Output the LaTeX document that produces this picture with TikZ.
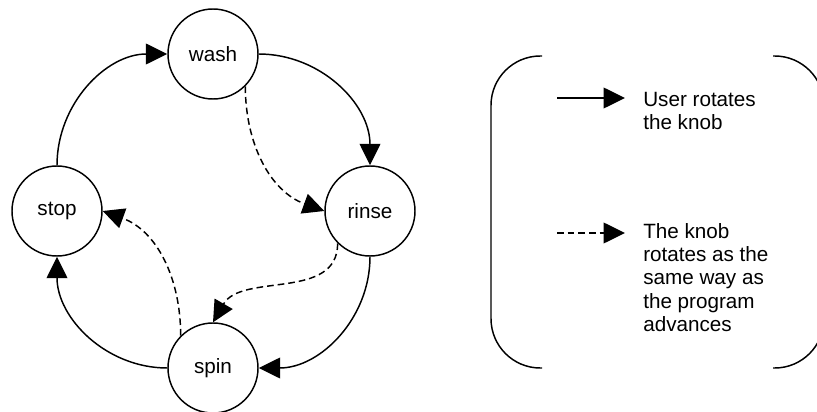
\documentclass[tikz,border=0pt]{standalone}
\usepackage{fontspec}
\setmainfont{Liberation Sans}
\usetikzlibrary{arrows.meta}
\begin{document}
\begin{tikzpicture}[x=0.75pt,y=0.75pt,
  every node/.style={font=\fontsize{15.5}{17.5}\selectfont},
  state/.style={circle,draw,line width=1.1pt,minimum size=67.5pt,inner sep=0pt},
  link/.style={line width=1.1pt,-{Triangle[length=16pt,width=15.5pt]}},
  auto link/.style={link,dash pattern=on 5pt off 3pt},
  note/.style={anchor=north west,align=left,inner sep=0pt},
  bracket/.style={line width=1.1pt,rounded corners=37pt}]
\useasboundingbox (0,0) rectangle (817,411);
\clip (0,0) rectangle (817,411);

% program states
\node[state] (wash)  at (213,357) {wash};
\node[state] (stop)  at (57,200)  {stop};
\node[state] (rinse) at (370,200) {rinse};
\node[state] (spin)  at (213,43)  {spin};

% user turns the knob
\draw[link] (stop.north) to[out=90,in=180] (wash.west);
\draw[link] (wash.east) to[out=0,in=90] (rinse.north);
\draw[link] (rinse.south) to[out=-90,in=0] (spin.east);
\draw[link] (spin.west) to[out=180,in=-90] (stop.south);

% knob follows the program
\draw[auto link] (wash.-45) to[out=-90,in=160] (rinse.west);
\draw[auto link] (rinse.-135) to[out=-90,in=60] (spin.north);
\draw[auto link] (spin.135) to[out=90,in=-20] (stop.east);

% legend
\draw[bracket] (542,355) -- (491,355) -- (491,43) -- (542,43);
\draw[bracket] (773,355) -- (824,355) -- (824,43) -- (773,43);

\coordinate (k1s) at (557,313);
\coordinate (k1e) at (625,313);
\coordinate (k2s) at (557,178);
\coordinate (k2e) at (625,178);
\draw[link] (k1s) -- (k1e);
\draw[auto link] (k2s) -- (k2e);

\node[note] (note1) at (643,319) {User rotates\\the knob};
\node[note] (note2) at (643,188) {The knob\\rotates as the\\same way as\\the program\\advances};
\end{tikzpicture}
\end{document}
